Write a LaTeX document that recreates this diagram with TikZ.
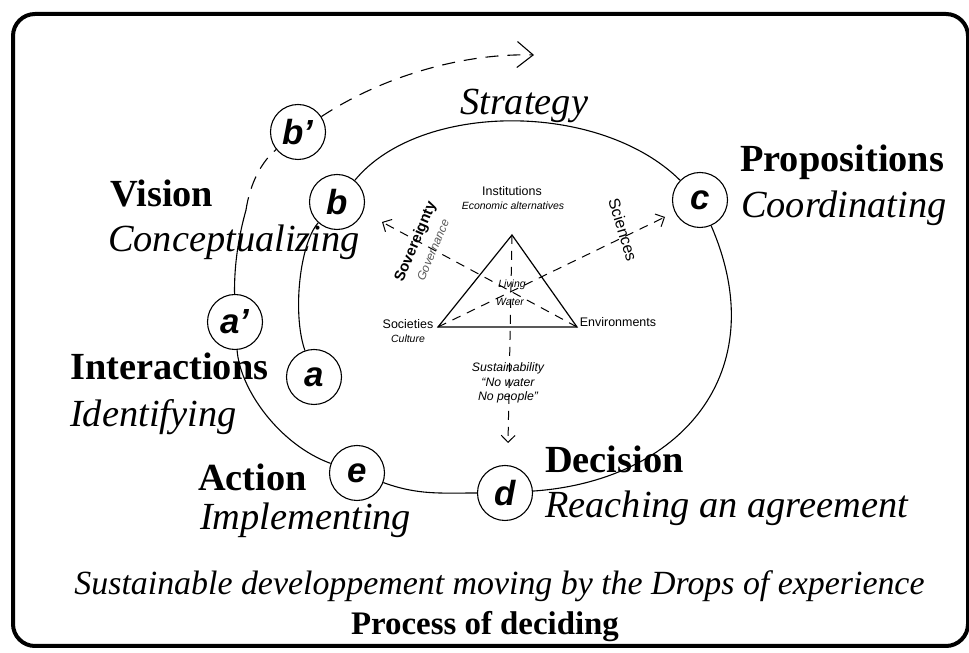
\documentclass[tikz,border=0pt]{standalone}
\usepackage{fontspec}
\setmainfont{Liberation Serif}
\setsansfont{Liberation Sans}
\usetikzlibrary{arrows.meta}
\begin{document}
\begin{tikzpicture}[x=1bp,y=1bp,
  stage/.style={circle, draw, line width=1.1bp, minimum size=55bp, inner sep=0pt,
    font=\fontsize{35}{35}\selectfont\sffamily\bfseries\itshape},
  bigb/.style={font=\fontsize{38.5}{40}\selectfont\bfseries, anchor=base west, inner sep=0pt},
  bigi/.style={font=\fontsize{38.5}{40}\selectfont\itshape, anchor=base west, inner sep=0pt},
  loopline/.style={line width=1.1bp},
  outdash/.style={line width=1.1bp, dash pattern=on 13bp off 9bp},
  indash/.style={line width=1bp, dash pattern=on 9bp off 7bp},
  smalltip/.style={-{Straight Barb[length=7bp,width=14bp]}},
  smalls/.style={font=\fontsize{12.5}{13}\selectfont\sffamily, inner sep=0pt},
  smalli/.style={font=\fontsize{10.5}{11}\selectfont\sffamily\itshape, inner sep=0pt},
  midi/.style={font=\fontsize{12.3}{14.5}\selectfont\sffamily\itshape, inner sep=0pt, align=center},
]
\useasboundingbox (0,0) rectangle (969,653);
\draw[line width=4bp, rounded corners=22bp] (13,7) rectangle (968,639);

% stages
\node[stage] (bp) at (298,521) {b’};
\node[stage] (b)  at (337,451) {b};
\node[stage] (c)  at (700,453) {c};
\node[stage] (ap) at (235,331) {a’};
\node[stage] (a)  at (314,276) {a};
\node[stage] (e)  at (357,180) {e};
\node[stage] (d)  at (505,160) {d};
\coordinate (m) at (246,443);
\coordinate (tip) at (534,598);

% spiral
\draw[loopline] (a) .. controls (292,340) and (300,410) .. (b);
\draw[loopline] (b) .. controls (420,552) and (600,552) .. (c);
\draw[loopline] (c) .. controls (775,280) and (680,172) .. (d);
\draw[loopline] (d) to[out=180,in=-20] (e);
\draw[loopline] (e) .. controls (280,208) and (240,263) .. (ap);
\draw[loopline] (ap) .. controls (234,395) and (241,425) .. (m);
\draw[outdash] (m) .. controls (250,470) and (262,492) .. (bp);
\draw[outdash, -{Straight Barb[length=16bp,width=26bp]}] (bp) .. controls (380,575) and (460,600) .. (tip);

% big labels
\node[bigi] (strat) at (460,538) {Strategy};
\node[bigb] (prop) at (740,481) {Propositions};
\node[bigi] (coord) at (741,435) {Coordinating};
\node[bigb] (vis) at (110,446) {Vision};
\node[bigi] (conc) at (108,401) {Conceptualizing};
\node[bigb] (inter) at (70,273) {Interactions};
\node[bigi] (ident) at (70,226) {Identifying};
\node[bigb] (act) at (198,162) {Action};
\node[bigi] (impl) at (200,123) {Implementing};
\node[bigb] (dec) at (545,180) {Decision};
\node[bigi] (reach) at (545,135) {Reaching an agreement};
\node[font=\fontsize{34}{36}\selectfont\itshape, anchor=base, inner sep=0pt] (sust) at (499.5,58)
  {Sustainable developpement moving by the Drops of experience};
\node[font=\fontsize{33}{35}\selectfont\bfseries, anchor=base, inner sep=0pt] (proc) at (485,18)
  {Process of deciding};

% centre
\coordinate (apex) at (512,418);
\coordinate (lv) at (438,326);
\coordinate (rv) at (577,326);
\coordinate (tv) at (508,210);
\coordinate (tr) at (665,436);
\coordinate (tl) at (382,431);
\draw[line width=1.2bp, line join=miter] (apex) -- (lv) -- (rv) -- cycle;
\draw[indash, smalltip] (apex) -- (tv);
\draw[indash, smalltip] (lv) -- (tr);
\draw[indash, smalltip] (rv) -- (tl);

\node[smalls] (inst) at (512,462) {Institutions};
\node[smalli] (econ) at (513,447) {Economic alternatives};
\node[smalls] (soc) at (408,329) {Societies};
\node[smalli] (cult) at (408,314) {Culture};
\node[smalls] (env) at (618,331) {Environments};
\node[smalli] (liv) at (512,368) {Living};
\node[smalli] (wat) at (510,351) {Water};
\node[font=\fontsize{15}{15}\selectfont\sffamily\bfseries, rotate=67, inner sep=0pt] (sov) at (416,411) {Sovereignty};
\node[font=\fontsize{12}{12}\selectfont\sffamily\itshape, text=black!65, rotate=67, inner sep=0pt] (gov) at (433,403) {Governance};
\node[font=\fontsize{16}{16}\selectfont\sffamily, rotate=-73, inner sep=0pt] (sci) at (623,423) {Sciences};
\node[midi] (sus) at (508,270) {Sustainability\\``No water\\No people''};
\end{tikzpicture}
\end{document}
